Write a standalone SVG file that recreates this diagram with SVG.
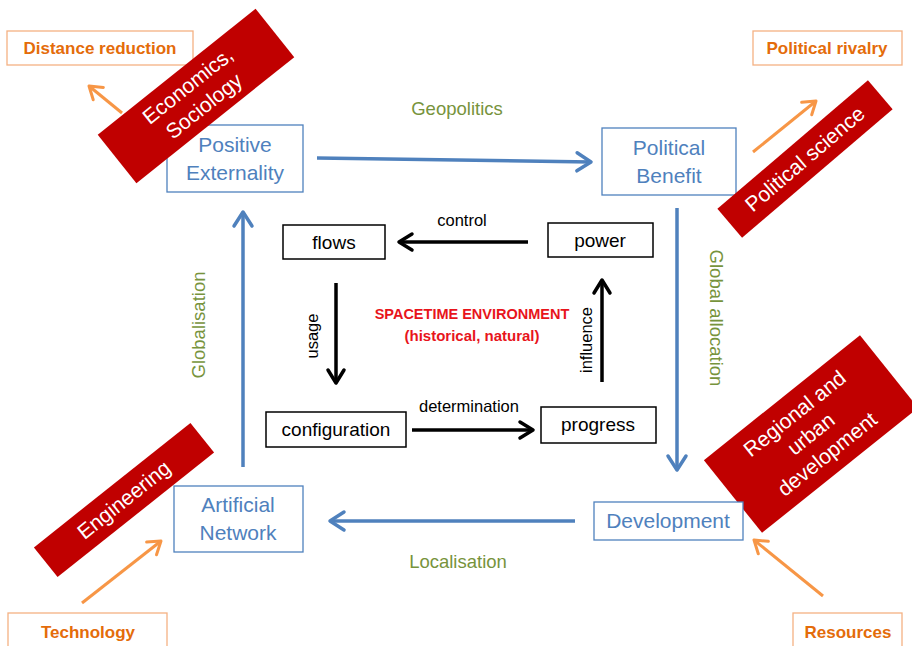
<svg xmlns="http://www.w3.org/2000/svg" width="912" height="646" viewBox="0 0 912 646">
<defs>
<style>
text{font-family:"Liberation Sans",Arial,sans-serif;}
.bbox{fill:#fff;stroke:#4F81BD;stroke-width:1.3;}
.btxt{fill:#4F81BD;font-size:21px;text-anchor:middle;}
.kbox{fill:#fff;stroke:#000;stroke-width:1.5;}
.ktxt{fill:#000;font-size:19px;text-anchor:middle;}
.obox{fill:#fff;stroke:#F4B183;stroke-width:1.3;}
.otxt{fill:#E46C0A;font-size:17px;font-weight:bold;text-anchor:middle;}
.red{fill:#C00000;}
.rtxt{fill:#fff;font-size:21px;text-anchor:middle;}
.glab{fill:#77933C;font-size:18.5px;text-anchor:middle;}
.klab{fill:#000;font-size:16.5px;text-anchor:middle;}
.ba{fill:none;stroke:#4F81BD;stroke-width:3.5;marker-end:url(#mb);}
.ka{fill:none;stroke:#000;stroke-width:3.5;marker-end:url(#mk);}
.oa{fill:none;stroke:#F79646;stroke-width:3;marker-end:url(#mo);}
</style>
<marker id="mb" viewBox="-18 -12 21 24" refX="0" refY="0" markerWidth="21" markerHeight="24" markerUnits="userSpaceOnUse" orient="auto">
<path d="M-14,-9 L0,0 L-14,9" fill="none" stroke="#4F81BD" stroke-width="3.5" stroke-linecap="round" stroke-linejoin="round"/>
</marker>
<marker id="mk" viewBox="-18 -12 21 24" refX="0" refY="0" markerWidth="21" markerHeight="24" markerUnits="userSpaceOnUse" orient="auto">
<path d="M-13,-8 L0,0 L-13,8" fill="none" stroke="#000" stroke-width="3.5" stroke-linecap="round" stroke-linejoin="round"/>
</marker>
<marker id="mo" viewBox="-16 -11 19 22" refX="0" refY="0" markerWidth="19" markerHeight="22" markerUnits="userSpaceOnUse" orient="auto">
<path d="M-12,-8 L0,0 L-12,8" fill="none" stroke="#F79646" stroke-width="3" stroke-linecap="round" stroke-linejoin="round"/>
</marker>
</defs>
<rect width="912" height="646" fill="#fff"/>

<g id="connectors">
<line class="ba" x1="317" y1="158" x2="591" y2="162"/>
<line class="ba" x1="677" y1="208" x2="677" y2="470"/>
<line class="ba" x1="575" y1="521" x2="330" y2="521"/>
<line class="ba" x1="243" y1="467" x2="243" y2="212"/>
<line class="ka" x1="528" y1="242" x2="399" y2="242"/>
<line class="ka" x1="336" y1="283" x2="336" y2="383"/>
<line class="ka" x1="412" y1="430" x2="533" y2="430"/>
<line class="ka" x1="602" y1="382" x2="602" y2="280"/>
<line class="oa" x1="122" y1="113" x2="89" y2="86"/>
<line class="oa" x1="753" y1="152" x2="816" y2="101"/>
<line class="oa" x1="82" y1="603" x2="161" y2="541"/>
<line class="oa" x1="823" y1="596" x2="754" y2="540"/>
<text class="glab" x="457" y="115">Geopolitics</text>
<text class="glab" x="458" y="568">Localisation</text>
<text class="glab" transform="translate(205,325) rotate(-90)" x="0" y="0">Globalisation</text>
<text class="glab" transform="translate(710,318) rotate(90)" x="0" y="0">Global allocation</text>
<text class="klab" x="462" y="226">control</text>
<text class="klab" x="469" y="412">determination</text>
<text class="klab" transform="translate(318,336) rotate(-90)" x="0" y="0">usage</text>
<text class="klab" transform="translate(592,340) rotate(-90)" x="0" y="0">influence</text>
</g>

<g id="distance-reduction">
<rect class="obox" x="7" y="31" width="186" height="34"/>
<text class="otxt" x="100" y="54">Distance reduction</text>
</g>
<g id="political-rivalry">
<rect class="obox" x="753" y="31" width="149" height="34"/>
<text class="otxt" x="827" y="54">Political rivalry</text>
</g>
<g id="technology">
<rect class="obox" x="8" y="613" width="159" height="40"/>
<text class="otxt" x="88" y="638">Technology</text>
</g>
<g id="resources">
<rect class="obox" x="793" y="613" width="109" height="40"/>
<text class="otxt" x="848" y="638">Resources</text>
</g>

<g id="positive-externality">
<rect class="bbox" x="167" y="125" width="136" height="67"/>
<text class="btxt" x="235" y="152">Positive</text>
<text class="btxt" x="235" y="180">Externality</text>
</g>
<g id="political-benefit">
<rect class="bbox" x="602" y="128" width="134" height="67"/>
<text class="btxt" x="669" y="155">Political</text>
<text class="btxt" x="669" y="183">Benefit</text>
</g>
<g id="artificial-network">
<rect class="bbox" x="174" y="486" width="129" height="66"/>
<text class="btxt" x="238" y="512">Artificial</text>
<text class="btxt" x="238" y="540">Network</text>
</g>

<g id="economics-sociology" transform="translate(196,96) rotate(-38.6)">
<rect class="red" x="-101" y="-31" width="202" height="62"/>
<text class="rtxt" x="0" y="-6">Economics,</text>
<text class="rtxt" x="0" y="20">Sociology</text>
</g>
<g id="political-science" transform="translate(805,159) rotate(-40.5)">
<rect class="red" x="-99" y="-19" width="198" height="38"/>
<text class="rtxt" x="0" y="7">Political science</text>
</g>
<g id="engineering" transform="translate(124,500) rotate(-38.5)">
<rect class="red" x="-100" y="-19" width="200" height="38"/>
<text class="rtxt" x="0" y="7">Engineering</text>
</g>
<g id="regional-urban-development" transform="translate(811,434) rotate(-38.7)">
<rect class="red" x="-100" y="-46.5" width="200" height="93"/>
<text class="rtxt" x="0" y="-19">Regional and</text>
<text class="rtxt" x="0" y="7">urban</text>
<text class="rtxt" x="0" y="33">development</text>
</g>

<g id="development">
<rect class="bbox" x="594" y="502" width="149" height="38"/>
<text class="btxt" x="668" y="528">Development</text>
</g>

<g id="flows">
<rect class="kbox" x="283" y="225" width="102" height="34"/>
<text class="ktxt" x="334" y="249">flows</text>
</g>
<g id="power">
<rect class="kbox" x="548" y="223" width="105" height="34"/>
<text class="ktxt" x="600" y="247">power</text>
</g>
<g id="configuration">
<rect class="kbox" x="266" y="412" width="140" height="35"/>
<text class="ktxt" x="336" y="436">configuration</text>
</g>
<g id="progress">
<rect class="kbox" x="541" y="407" width="115" height="36"/>
<text class="ktxt" x="598" y="431">progress</text>
</g>
<g id="spacetime-environment">
<text x="472" y="319" fill="#E8141B" font-size="14.5" font-weight="bold" text-anchor="middle">SPACETIME ENVIRONMENT</text>
<text x="472" y="341" fill="#E8141B" font-size="15" font-weight="bold" text-anchor="middle">(historical, natural)</text>
</g>
</svg>
